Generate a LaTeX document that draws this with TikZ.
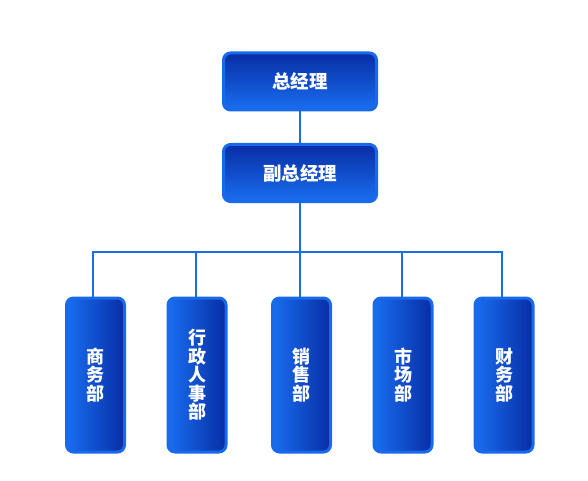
\documentclass[tikz,border=0pt]{standalone}
\usepackage{fontspec}
\newfontfamily\cjk{Noto Sans CJK SC}
\definecolor{rim}{RGB}{25,105,235}
\definecolor{darkb}{RGB}{8,45,165}
\definecolor{lightb}{RGB}{25,110,240}
\definecolor{linec}{RGB}{25,110,230}
\begin{document}
\begin{tikzpicture}[x=1pt,y=-1pt,
  hbox/.style={draw=rim,line width=3pt,rounded corners=7pt,top color=darkb,bottom color=lightb,
    minimum width=153pt,minimum height=57pt,text=white,font=\cjk\fontsize{18.5}{19}\selectfont\bfseries,inner sep=0pt},
  vbox/.style={draw=rim,line width=3pt,rounded corners=7pt,left color=lightb,right color=darkb,
    minimum width=58pt,minimum height=154pt,text=white,align=center,font=\cjk\fontsize{18}{18.5}\selectfont\bfseries,inner sep=0pt},
  conn/.style={draw=linec,line width=2.7pt}]
\useasboundingbox (0,0) rectangle (588,481);
\node[hbox] (gm) at (300,81.5) {总经理};
\node[hbox] (vgm) at (300,173) {副总经理};
\node[vbox] (d1) at (95.5,375) {商\\务\\部};
\node[vbox] (d2) at (197,375) {行\\政\\人\\事\\部};
\node[vbox] (d3) at (301.5,375) {销\\售\\部};
\node[vbox] (d4) at (403,375) {市\\场\\部};
\node[vbox] (d5) at (504,375) {财\\务\\部};
\coordinate (bar) at (300,252);
\draw[conn] (gm) -- (vgm);
\draw[conn] (vgm) -- (bar);
\draw[conn] (d1.north -| 93,0) |- (bar) -| (d5.north -| 502,0);
\draw[conn] (d2.north -| 196,0) -- (196,252);
\draw[conn] (d3.north -| 300,0) -- (bar);
\draw[conn] (d4.north -| 402,0) -- (402,252);
\end{tikzpicture}
\end{document}
